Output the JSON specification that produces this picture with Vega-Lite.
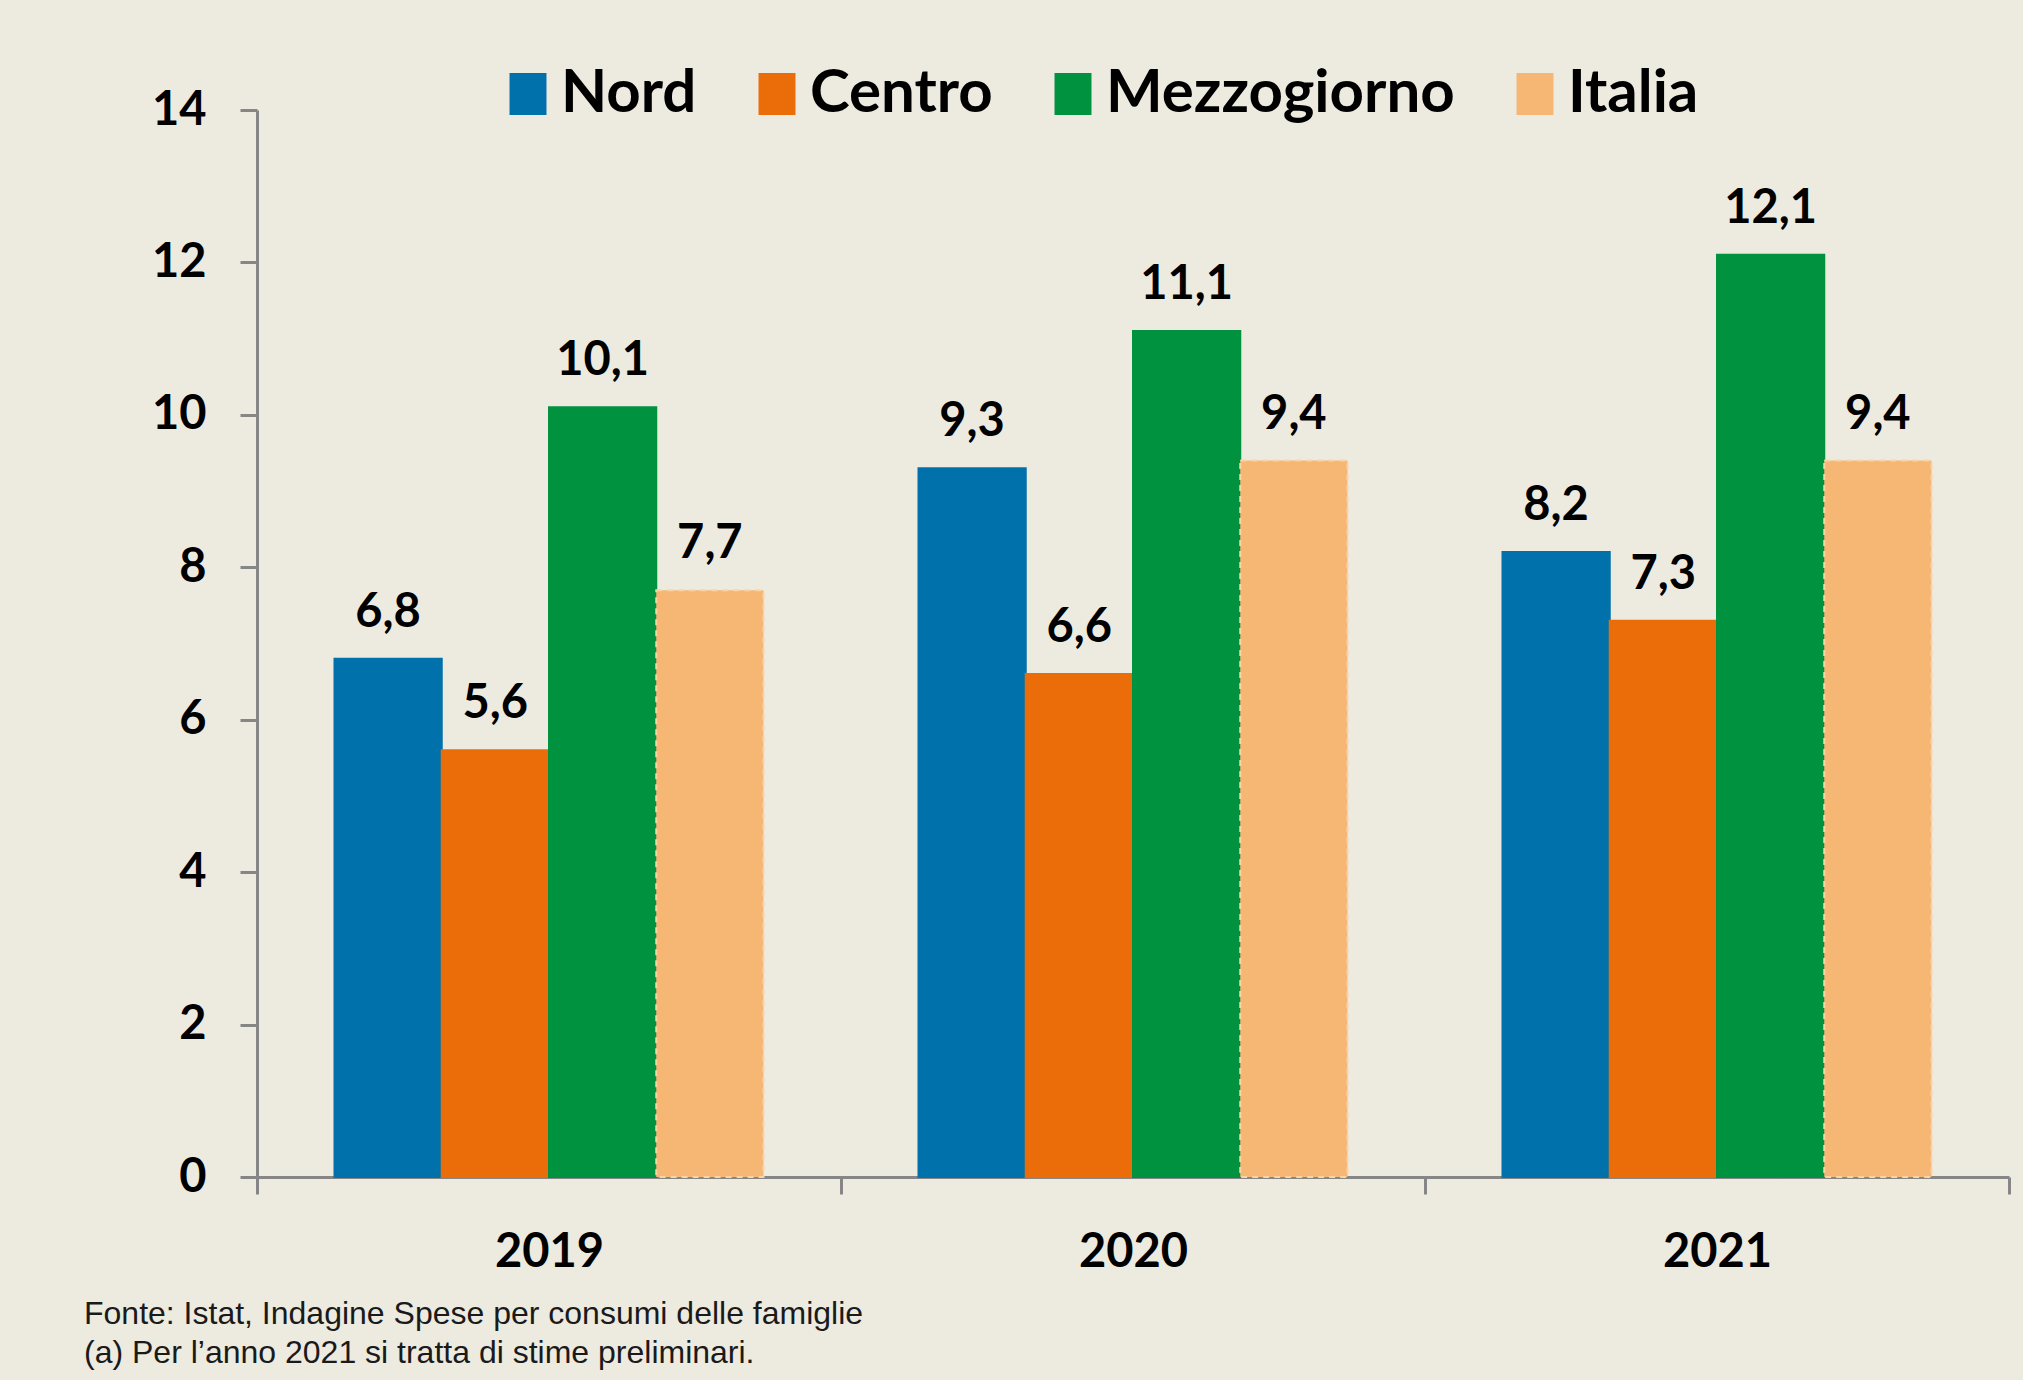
{
  "$schema": "https://vega.github.io/schema/vega-lite/v6.json",
  "autosize": {"type": "none"},
  "width": 1752,
  "height": 1067,
  "padding": {"left": 257, "top": 110, "right": 14, "bottom": 203},
  "background": "#EDEAE0",
  "data": {
    "values": [
      {"Anno": "2019", "Regione": "Nord", "Valore": 6.8},
      {"Anno": "2019", "Regione": "Centro", "Valore": 5.6},
      {"Anno": "2019", "Regione": "Mezzogiorno", "Valore": 10.1},
      {"Anno": "2019", "Regione": "Italia", "Valore": 7.7},
      {"Anno": "2020", "Regione": "Nord", "Valore": 9.3},
      {"Anno": "2020", "Regione": "Centro", "Valore": 6.6},
      {"Anno": "2020", "Regione": "Mezzogiorno", "Valore": 11.1},
      {"Anno": "2020", "Regione": "Italia", "Valore": 9.4},
      {"Anno": "2021", "Regione": "Nord", "Valore": 8.2},
      {"Anno": "2021", "Regione": "Centro", "Valore": 7.3},
      {"Anno": "2021", "Regione": "Mezzogiorno", "Valore": 12.1},
      {"Anno": "2021", "Regione": "Italia", "Valore": 9.4}
    ]
  },
  "title": {
    "text": ["Fonte: Istat, Indagine Spese per consumi delle famiglie", "(a) Per l’anno 2021 si tratta di stime preliminari."],
    "orient": "bottom",
    "anchor": "start",
    "frame": "group",
    "dx": -173,
    "offset": 24,
    "font": "Liberation Sans",
    "fontSize": 32,
    "fontWeight": "normal",
    "lineHeight": 39,
    "color": "#1a1a1a"
  },
  "encoding": {
    "x": {
      "field": "Anno",
      "type": "nominal",
      "scale": {"paddingInner": 0, "paddingOuter": 0},
      "axis": {
        "title": null,
        "labelAngle": 0,
        "labelFont": "Lato",
        "labelFontWeight": "bold",
        "labelFontSize": 47,
        "labelColor": "#000000",
        "labelPadding": 35,
        "domainColor": "#868686",
        "domainWidth": 3,
        "tickColor": "#868686",
        "tickWidth": 3,
        "tickSize": 17,
        "tickBand": "extent"
      }
    },
    "xOffset": {
      "field": "Regione",
      "type": "nominal",
      "sort": ["Nord", "Centro", "Mezzogiorno", "Italia"],
      "scale": {"paddingInner": 0, "paddingOuter": 0.7225}
    },
    "y": {
      "field": "Valore",
      "type": "quantitative",
      "scale": {"domain": [0, 14], "nice": false},
      "axis": {
        "title": null,
        "values": [0, 2, 4, 6, 8, 10, 12, 14],
        "grid": false,
        "labelFont": "Lato",
        "labelFontWeight": "bold",
        "labelFontSize": 47,
        "labelColor": "#000000",
        "labelPadding": 34,
        "domainColor": "#868686",
        "domainWidth": 3,
        "tickColor": "#868686",
        "tickWidth": 3,
        "tickSize": 17
      }
    }
  },
  "layer": [
    {
      "mark": {"type": "bar", "strokeWidth": 2},
      "encoding": {
        "color": {
          "field": "Regione",
          "type": "nominal",
          "sort": ["Nord", "Centro", "Mezzogiorno", "Italia"],
          "scale": {
            "domain": ["Nord", "Centro", "Mezzogiorno", "Italia"],
            "range": ["#0071AA", "#EA6D0A", "#01923F", "#F5B773"]
          },
          "legend": {
            "orient": "none",
            "legendX": 241,
            "legendY": -46,
            "direction": "horizontal",
            "title": null,
            "labelFont": "Lato",
            "labelFontWeight": "bold",
            "labelFontSize": 60,
            "labelColor": "#000000",
            "labelLimit": 600,
            "labelExpr": "datum.label == 'Centro' ? 'Centro\u00a0' : datum.label",
            "symbolType": "M-0.88,-1H0.88V1H-0.88Z",
            "symbolSize": 1764,
            "symbolStrokeWidth": 0,
            "symbolOpacity": 1,
            "labelOffset": 3,
            "columnPadding": 50
          }
        },
        "stroke": {
          "field": "Regione",
          "type": "nominal",
          "scale": {
            "domain": ["Nord", "Centro", "Mezzogiorno", "Italia"],
            "range": ["#0071AA", "#EA6D0A", "#01923F", "#FAD3A6"]
          },
          "legend": null
        },
        "strokeDash": {
          "field": "Regione",
          "type": "nominal",
          "scale": {
            "domain": ["Nord", "Centro", "Mezzogiorno", "Italia"],
            "range": [[1, 0], [1, 0], [1, 0], [6, 5]]
          },
          "legend": null
        }
      }
    },
    {
      "mark": {
        "type": "text",
        "baseline": "alphabetic",
        "dy": -32,
        "font": "Lato",
        "fontWeight": "bold",
        "fontSize": 47,
        "color": "#000000"
      },
      "encoding": {
        "text": {"field": "Valore", "type": "quantitative", "format": ".1f"}
      }
    }
  ],
  "config": {
    "view": {"stroke": null},
    "locale": {
      "number": {"decimal": ",", "thousands": ".", "grouping": [3], "currency": ["", " €"]}
    }
  }
}
